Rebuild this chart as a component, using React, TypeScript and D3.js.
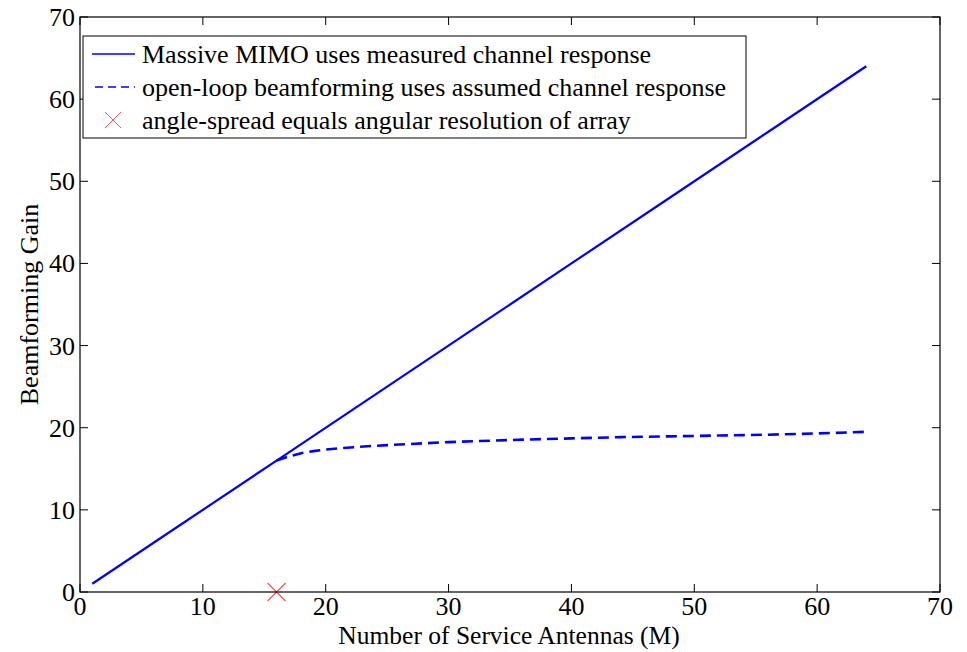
import React from "react";
import * as d3 from "d3";

const massiveM = [1, 8, 16, 24, 32, 40, 48, 56, 64];
const massiveGain = [1, 8, 16, 24, 32, 40, 48, 56, 64];
const openM = [16, 17, 18, 19, 20, 22, 24, 26, 28, 30, 32, 36, 40, 44, 48, 52, 56, 60, 64];
const openGain = [16, 16.5, 16.9, 17.15, 17.35, 17.6, 17.8, 17.95, 18.1, 18.25, 18.35, 18.55, 18.7, 18.85, 18.95, 19.05, 19.15, 19.3, 19.5];
const markerPoint = [16, 0];
const xTicks = [0, 10, 20, 30, 40, 50, 60, 70];
const yTicks = [0, 10, 20, 30, 40, 50, 60, 70];
const legendLabels = [
  "Massive MIMO uses measured channel response",
  "open-loop beamforming uses assumed channel response",
  "angle-spread equals angular resolution of array",
];

const W = 967, H = 652;
const L = 80, R = 940, T = 17, B = 592;
const FONT = "'Liberation Serif', 'Times New Roman', Times, serif";
const FS = 26;

export default function App() {
  const x = d3.scaleLinear().domain([0, 70]).range([L, R]);
  const y = d3.scaleLinear().domain([0, 70]).range([B, T]);
  const line = d3.line<[number, number]>().x(d => x(d[0])).y(d => y(d[1]));
  const solid = line(massiveM.map((m, i) => [m, massiveGain[i]] as [number, number]));
  const dashed = line(openM.map((m, i) => [m, openGain[i]] as [number, number]));
  const tk = 8;
  const mx = x(markerPoint[0]), my = y(markerPoint[1]);
  const ms = 9;
  const lgX = 83, lgY = 36, lgW = 663, lgH = 102;
  const rows = [54, 87, 120];
  return (
    <svg width={W} height={H} style={{ position: "absolute", left: 0, top: 0, background: "#fff" }}>
      <rect x={0} y={0} width={W} height={H} fill="#fff" />
      <path d={solid || ""} fill="none" stroke="#0000ff" strokeWidth={2.2} />
      <path d={dashed || ""} fill="none" stroke="#0000ff" strokeWidth={2.6} strokeDasharray="11,6" />
      <g stroke="#ff5050" strokeWidth={1.2}>
        <line x1={mx - ms} y1={my - ms} x2={mx + ms} y2={my + ms} />
        <line x1={mx - ms} y1={my + ms} x2={mx + ms} y2={my - ms} />
      </g>
      <rect x={L} y={T} width={R - L} height={B - T} fill="none" stroke="#000" strokeWidth={1.2} />
      {xTicks.map(t => (
        <g key={"x" + t}>
          <line x1={x(t)} x2={x(t)} y1={B} y2={B - tk} stroke="#000" />
          <line x1={x(t)} x2={x(t)} y1={T} y2={T + tk} stroke="#000" />
          <text x={x(t)} y={B + 23} textAnchor="middle" fontFamily={FONT} fontSize={FS}>{t}</text>
        </g>
      ))}
      {yTicks.map(t => (
        <g key={"y" + t}>
          <line x1={L} x2={L + tk} y1={y(t)} y2={y(t)} stroke="#000" />
          <line x1={R} x2={R - tk} y1={y(t)} y2={y(t)} stroke="#000" />
          <text x={L - 5} y={y(t) + 9} textAnchor="end" fontFamily={FONT} fontSize={FS}>{t}</text>
        </g>
      ))}
      <text x={(L + R) / 2 - 1} y={644} textAnchor="middle" fontFamily={FONT} fontSize={FS - 0.5}>Number of Service Antennas (M)</text>
      <text transform={`translate(38,${(T + B) / 2}) rotate(-90)`} textAnchor="middle" fontFamily={FONT} fontSize={FS}>Beamforming Gain</text>
      <rect x={lgX} y={lgY} width={lgW} height={lgH} fill="#fff" stroke="#000" strokeWidth={1} />
      <line x1={92} x2={135} y1={rows[0]} y2={rows[0]} stroke="#0000ff" strokeWidth={1.5} />
      <line x1={95} x2={135} y1={rows[1]} y2={rows[1]} stroke="#0000ff" strokeWidth={1.5} strokeDasharray="8,5" />
      <g stroke="#ff5050" strokeWidth={1}>
        <line x1={113 - 8} y1={rows[2] - 8} x2={113 + 8} y2={rows[2] + 8} />
        <line x1={113 - 8} y1={rows[2] + 8} x2={113 + 8} y2={rows[2] - 8} />
      </g>
      {legendLabels.map((s, i) => (
        <text key={s} x={142} y={rows[i] + 9} fontFamily={FONT} fontSize={FS}>{s}</text>
      ))}
    </svg>
  );
}
